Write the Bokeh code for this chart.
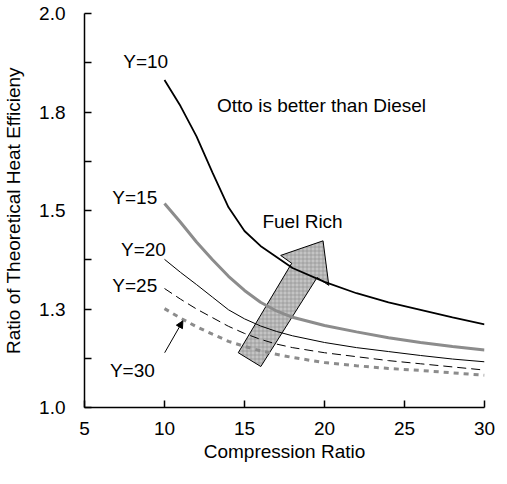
from bokeh.plotting import figure
from bokeh.models import Range1d, FixedTicker, CustomJSTickFormatter, Arrow, NormalHead
from bokeh.core.properties import value
from bokeh.embed import file_html
from bokeh.resources import INLINE

# ---- data ----
compression_ratio = [10, 11, 12, 13, 14, 15, 16, 17, 18, 20, 22, 24, 26, 28, 30]
eff_y10 = [1.831, 1.765, 1.688, 1.596, 1.508, 1.448, 1.410, 1.382, 1.354, 1.319, 1.290, 1.267, 1.248, 1.229, 1.211]
eff_y15 = [1.518, 1.470, 1.420, 1.375, 1.333, 1.297, 1.267, 1.245, 1.229, 1.208, 1.192, 1.177, 1.165, 1.155, 1.146]
eff_y20 = [1.376, 1.343, 1.312, 1.280, 1.248, 1.225, 1.207, 1.193, 1.182, 1.165, 1.152, 1.142, 1.132, 1.123, 1.116]
eff_y25 = [1.302, 1.275, 1.250, 1.228, 1.206, 1.188, 1.173, 1.161, 1.152, 1.139, 1.129, 1.119, 1.111, 1.103, 1.095]
eff_y30 = [1.251, 1.227, 1.205, 1.186, 1.168, 1.155, 1.144, 1.135, 1.127, 1.114, 1.106, 1.099, 1.094, 1.088, 1.082]

x_ticks = [5, 10, 15, 20, 25, 30]
y_ticks = [1.0, 1.25, 1.5, 1.75, 2.0]
y_minor_ticks = [1.125, 1.375, 1.625, 1.875]

label_text = ["Y=10", "Y=15", "Y=20", "Y=25", "Y=30", "Fuel Rich", "Otto is better than Diesel"]
label_x = [7.42, 6.74, 7.28, 6.74, 6.59, 16.12, 13.28]
label_y = [1.877, 1.533, 1.402, 1.309, 1.095, 1.473, 1.766]

# big "Fuel Rich" arrow outline (data coordinates)
arrow_x = [14.61, 17.95, 17.26, 19.91, 20.27, 19.54, 16.02]
arrow_y = [1.139, 1.366, 1.386, 1.423, 1.310, 1.330, 1.104]

# pointer for the Y=30 label
pointer_start = (10.01, 1.139)
pointer_end = (11.15, 1.220)

FONT = "Liberation Sans"

p = figure(width=495, height=468, output_backend="svg", toolbar_location=None,
           x_range=Range1d(5, 30), y_range=Range1d(1.0, 2.0),
           min_border_left=81, min_border_right=11, min_border_top=13, min_border_bottom=61)
p.outline_line_color = None
p.xgrid.grid_line_color = None
p.ygrid.grid_line_color = None
p.background_fill_color = "white"
p.border_fill_color = "white"

# arrow first so lines lie on top
p.patch(arrow_x, arrow_y, fill_color="#c4c4c4", hatch_pattern="+", hatch_color="#8a8a8a",
        hatch_scale=4, hatch_weight=0.6, line_color="black", line_width=1)

p.line(compression_ratio, eff_y10, line_color="black", line_width=1.8)
p.line(compression_ratio, eff_y15, line_color="#8c8c8c", line_width=3)
p.line(compression_ratio, eff_y20, line_color="black", line_width=1)
p.line(compression_ratio, eff_y25, line_color="black", line_width=1, line_dash="9 5")
p.line(compression_ratio, eff_y30, line_color="#8c8c8c", line_width=3, line_dash="5 5")

p.text(x=label_x, y=label_y, text=label_text, text_font=value(FONT), text_font_size="19px",
       text_align="left", text_baseline="middle", text_color="black")

p.add_layout(Arrow(end=NormalHead(size=7, fill_color="black", line_color="black"),
                   x_start=pointer_start[0], y_start=pointer_start[1],
                   x_end=pointer_end[0], y_end=pointer_end[1],
                   line_color="black", line_width=1))

# axes
fmt = CustomJSTickFormatter(code="return tick.toFixed(1);")
for ax in (p.xaxis[0], p.yaxis[0]):
    ax.axis_line_color = "black"
    ax.axis_line_width = 1.5
    ax.major_tick_line_color = "black"
    ax.major_tick_line_width = 1.5
    ax.major_tick_in = 7
    ax.major_tick_out = 0
    ax.major_label_text_font = FONT
    ax.major_label_text_font_size = "19px"
    ax.major_label_text_color = "black"
    ax.axis_label_text_font = FONT
    ax.axis_label_text_font_size = "19px"
    ax.axis_label_text_font_style = "normal"
    ax.axis_label_text_color = "black"

p.xaxis.ticker = FixedTicker(ticks=x_ticks)
p.xaxis.minor_tick_line_color = None
p.xaxis.major_label_standoff = 14
p.xaxis.axis_label = "Compression Ratio"
p.xaxis.axis_label_standoff = 3

p.yaxis.ticker = FixedTicker(ticks=y_ticks, minor_ticks=y_minor_ticks)
p.yaxis.formatter = fmt
p.yaxis.minor_tick_in = 7
p.yaxis.minor_tick_out = 0
p.yaxis.minor_tick_line_color = "black"
p.yaxis.minor_tick_line_width = 1.5
p.yaxis.major_label_standoff = 19
p.yaxis.axis_label = "Ratio of Theoretical Heat Efficieny"
p.yaxis.axis_label_standoff = 12

open("out.html", "w").write(file_html(p, INLINE))
